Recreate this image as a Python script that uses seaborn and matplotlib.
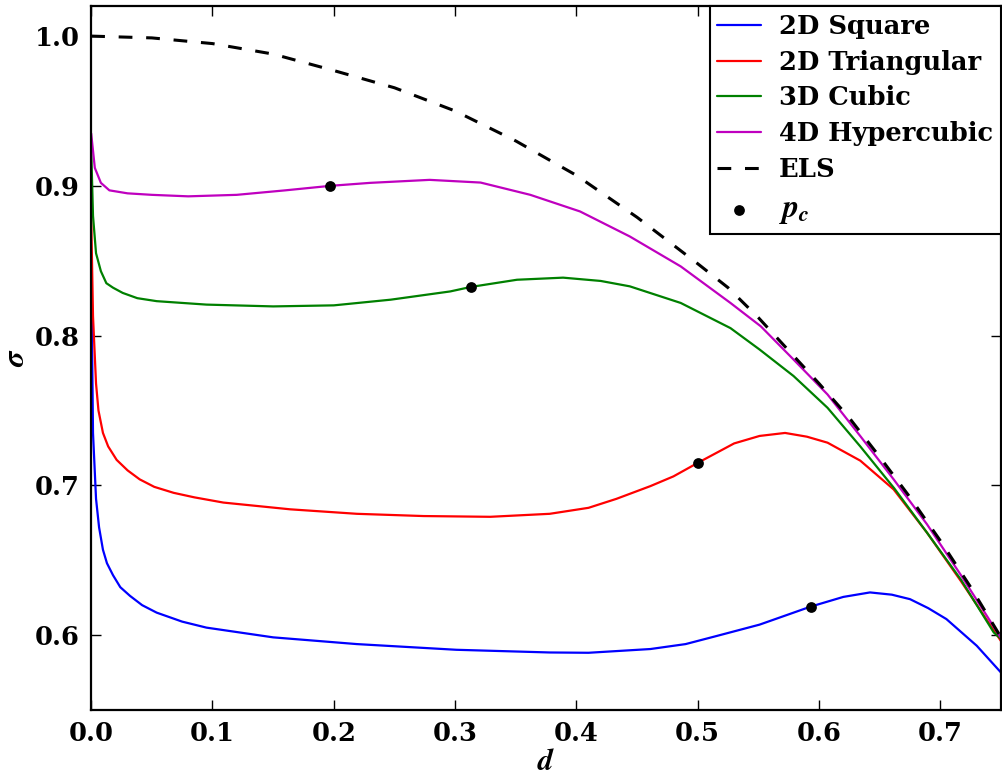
import numpy as np
import pandas as pd
import matplotlib
matplotlib.use("Agg")
import matplotlib.pyplot as plt
import seaborn as sns

# ---------------- data ----------------
square_d = [0.000, 0.0015, 0.004, 0.0065, 0.0097, 0.013, 0.018, 0.024, 0.032, 0.042,
            0.054, 0.075, 0.095, 0.150, 0.219, 0.301, 0.378, 0.410, 0.461, 0.490,
            0.516, 0.551, 0.593, 0.620, 0.642, 0.660, 0.675, 0.690, 0.705, 0.730, 0.750]
square_s = [0.850, 0.735, 0.691, 0.672, 0.657, 0.648, 0.640, 0.632, 0.6262, 0.620,
            0.615, 0.609, 0.605, 0.5985, 0.594, 0.5902, 0.5884, 0.5882, 0.5907, 0.594,
            0.5995, 0.607, 0.619, 0.6255, 0.6285, 0.627, 0.624, 0.618, 0.6107, 0.5929, 0.575]

tri_d = [0.000, 0.0015, 0.004, 0.006, 0.0097, 0.014, 0.021, 0.030, 0.040, 0.052,
         0.068, 0.085, 0.109, 0.164, 0.219, 0.274, 0.329, 0.378, 0.410, 0.433,
         0.461, 0.480, 0.500, 0.530, 0.551, 0.572, 0.590, 0.607, 0.634, 0.6615,
         0.689, 0.717, 0.750]
tri_s = [0.880, 0.813, 0.768, 0.750, 0.735, 0.726, 0.717, 0.710, 0.704, 0.699,
         0.695, 0.692, 0.6885, 0.684, 0.681, 0.6795, 0.679, 0.681, 0.685, 0.691,
         0.6995, 0.706, 0.715, 0.728, 0.733, 0.7350, 0.7325, 0.7285, 0.7165, 0.6973,
         0.6684, 0.636, 0.596]

cubic_d = [0.000, 0.0015, 0.004, 0.008, 0.0125, 0.018, 0.026, 0.038, 0.054, 0.095,
           0.150, 0.200, 0.247, 0.296, 0.313, 0.351, 0.389, 0.420, 0.444, 0.486,
           0.527, 0.551, 0.579, 0.607, 0.634, 0.662, 0.689, 0.717, 0.744, 0.750]
cubic_s = [0.925, 0.880, 0.855, 0.843, 0.835, 0.832, 0.8285, 0.825, 0.823, 0.8207,
           0.8195, 0.8202, 0.824, 0.8295, 0.8325, 0.8373, 0.8387, 0.8365, 0.8329, 0.8218,
           0.805, 0.7907, 0.773, 0.7518, 0.726, 0.698, 0.6684, 0.637, 0.6018, 0.5975]

hyper_d = [0.000, 0.003, 0.008, 0.015, 0.030, 0.050, 0.080, 0.120, 0.160, 0.197,
           0.230, 0.279, 0.321, 0.362, 0.403, 0.444, 0.486, 0.527, 0.552, 0.579,
           0.607, 0.634, 0.6615, 0.689, 0.717, 0.750]
hyper_s = [0.935, 0.912, 0.902, 0.897, 0.895, 0.894, 0.893, 0.894, 0.897, 0.900,
           0.902, 0.904, 0.9022, 0.894, 0.8829, 0.8662, 0.8462, 0.8218, 0.8062, 0.784,
           0.7607, 0.7329, 0.704, 0.674, 0.640, 0.598]

els_d = [0.00, 0.05, 0.10, 0.15, 0.20, 0.25, 0.30, 0.35, 0.40, 0.45, 0.50, 0.525,
         0.55, 0.575, 0.60, 0.625, 0.65, 0.675, 0.70, 0.725, 0.75]
els_s = [1.000, 0.9988, 0.995, 0.988, 0.977, 0.9655, 0.950, 0.930, 0.907, 0.879, 0.848,
         0.832, 0.812, 0.790, 0.768, 0.745, 0.719, 0.692, 0.663, 0.632, 0.5985]

pc_d = [0.593, 0.500, 0.313, 0.197]
pc_s = [0.619, 0.715, 0.8325, 0.900]

labels = ["2D Square", "2D Triangular", "3D Cubic", "4D Hypercubic"]
colors = ["#0000ff", "#ff0000", "#008000", "#bf00bf"]
series = [(square_d, square_s), (tri_d, tri_s), (cubic_d, cubic_s), (hyper_d, hyper_s)]

# ---------------- style ----------------
sns.set_style("ticks")
plt.rcParams["font.family"] = ["DejaVu Serif"]
plt.rcParams["font.weight"] = "bold"
plt.rcParams["text.color"] = "black"
plt.rcParams["axes.labelcolor"] = "black"
plt.rcParams["mathtext.fontset"] = "custom"
plt.rcParams["mathtext.it"] = "STIXGeneral:italic:bold"
plt.rcParams["mathtext.rm"] = "DejaVu Serif:bold"
plt.rcParams["mathtext.bf"] = "DejaVu Serif:bold"

fig = plt.figure(figsize=(10.02, 7.79), dpi=100)
ax = fig.add_axes([0.091, 0.0886, 0.908, 0.9035])

for (dd, ss), lab, col in zip(series, labels, colors):
    df = pd.DataFrame({"d": dd, "s": ss})
    sns.lineplot(data=df, x="d", y="s", ax=ax, color=col, lw=1.6,
                 label=lab, estimator=None, sort=False)

els_df = pd.DataFrame({"d": els_d, "s": els_s})
sns.lineplot(data=els_df, x="d", y="s", ax=ax, color="black", lw=2.2,
             label="ELS", estimator=None, sort=False)
ax.lines[-1].set_dashes((4.5, 4.5))

pc_df = pd.DataFrame({"d": pc_d, "s": pc_s})
sns.scatterplot(data=pc_df, x="d", y="s", ax=ax, color="black", s=60,
                edgecolor="black", linewidth=0, label=r"$p_c$", zorder=5)

ax.set_xlim(0, 0.75)
ax.set_ylim(0.55, 1.02)
ax.set_xticks([0.0, 0.1, 0.2, 0.3, 0.4, 0.5, 0.6, 0.7])
ax.set_yticks([0.6, 0.7, 0.8, 0.9, 1.0])
ax.set_xticklabels(["0.0", "0.1", "0.2", "0.3", "0.4", "0.5", "0.6", "0.7"])
ax.set_yticklabels(["0.6", "0.7", "0.8", "0.9", "1.0"])
ax.tick_params(direction="in", length=7, width=1, top=True, right=True,
               labelsize=18.5, pad=8, colors="black")
for sp in ax.spines.values():
    sp.set_visible(True)
    sp.set_linewidth(1.6)
    sp.set_color("black")

ax.set_xlabel(r"$d$", fontsize=22, labelpad=0, color="black")
ax.set_ylabel(r"$\sigma$", fontsize=22, labelpad=3, color="black")

leg = ax.legend(loc="upper right", borderaxespad=0, fontsize=18.5,
                fancybox=False, framealpha=1, edgecolor="black",
                handlelength=1.7, labelspacing=0.42, borderpad=0.3,
                handletextpad=0.7, markerscale=1.0)
leg.get_frame().set_linewidth(1.5)
for t in leg.get_texts():
    t.set_color("black")
leg.get_texts()[-1].set_fontsize(23)

fig.savefig("out.png", dpi=100)
